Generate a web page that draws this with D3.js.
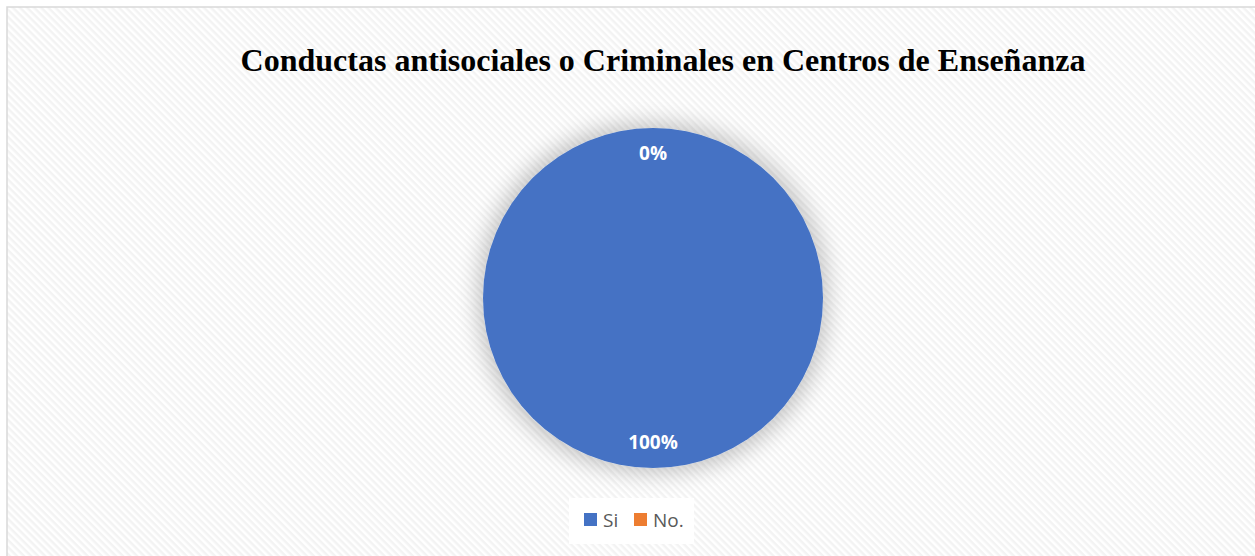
<!DOCTYPE html>
<html lang="es">
<head>
  <meta charset="utf-8">
  <title>Conductas antisociales o Criminales</title>
  <script src="https://cdnjs.cloudflare.com/ajax/libs/d3/7.8.5/d3.min.js"></script>
  <style>
    body { margin: 0; background: #fff; }
    svg { display: block; }
  </style>
</head>
<body>
  <script>
    var width = 1255;
    var height = 556;

    // data
    var categories = ["Si", "No."];
    var values = [100, 0];
    var colors = ["#4472c4", "#ed7d31"];
    var title = "Conductas antisociales o Criminales en Centros de Enseñanza";

    var cx = 653, cy = 298, radius = 170;

    var svg = d3.select("body").append("svg")
      .attr("width", width)
      .attr("height", height);

    var defs = svg.append("defs");

    // diagonal stripe background
    var pat = defs.append("pattern")
      .attr("id", "stripes")
      .attr("patternUnits", "userSpaceOnUse")
      .attr("width", 5)
      .attr("height", 5)
      .attr("patternTransform", "rotate(45)");
    pat.append("rect").attr("width", 5).attr("height", 5).attr("fill", "#ffffff");
    pat.append("rect").attr("width", 5).attr("height", 2.5).attr("fill", "#f3f3f3");

    var shadow = defs.append("filter")
      .attr("id", "shadow")
      .attr("x", "-30%").attr("y", "-30%")
      .attr("width", "160%").attr("height", "160%");
    shadow.append("feMorphology")
      .attr("in", "SourceAlpha")
      .attr("operator", "dilate")
      .attr("radius", 5)
      .attr("result", "grow");
    shadow.append("feGaussianBlur")
      .attr("in", "grow")
      .attr("stdDeviation", 11)
      .attr("result", "blur");
    shadow.append("feComponentTransfer")
      .append("feFuncA").attr("type", "linear").attr("slope", 0.22);
    var merge = shadow.append("feMerge");
    merge.append("feMergeNode");
    merge.append("feMergeNode").attr("in", "SourceGraphic");

    // chart area
    svg.append("rect")
      .attr("x", 7).attr("y", 7)
      .attr("width", width).attr("height", height)
      .attr("fill", "url(#stripes)")
      .attr("stroke", "#d9d9d9")
      .attr("stroke-width", 1.5);

    svg.append("text")
      .attr("x", 663)
      .attr("y", 71)
      .attr("text-anchor", "middle")
      .attr("font-family", "Liberation Serif, Times New Roman, serif")
      .attr("font-weight", "bold")
      .attr("font-size", 32)
      .attr("fill", "#000")
      .text(title);

    var pie = d3.pie().sort(null).value(function (d) { return d; });
    var arcs = pie(values);
    var arc = d3.arc().innerRadius(0).outerRadius(radius);
    var labelArc = d3.arc().innerRadius(radius * 0.85).outerRadius(radius * 0.85);
    var total = d3.sum(values);

    var g = svg.append("g").attr("transform", "translate(" + cx + "," + cy + ")");

    g.selectAll("path")
      .data(arcs)
      .enter()
      .append("path")
      .attr("d", arc)
      .attr("fill", function (d, i) { return colors[i]; })
      .attr("filter", "url(#shadow)");

    g.selectAll("text")
      .data(arcs)
      .enter()
      .append("text")
      .attr("transform", function (d) { return "translate(" + labelArc.centroid(d) + ")"; })
      .attr("text-anchor", "middle")
      .attr("dy", "0.35em")
      .attr("font-family", "Open Sans, Liberation Sans, sans-serif")
      .attr("font-weight", "bold")
      .attr("font-size", 19)
      .attr("fill", "#fff")
      .text(function (d) { return Math.round(d.data / total * 100) + "%"; });

    // legend
    var legend = svg.append("g");
    legend.append("rect")
      .attr("x", 569).attr("y", 498)
      .attr("width", 125).attr("height", 46)
      .attr("fill", "#fff");

    var legX = [584, 634];
    var items = legend.selectAll("g.item")
      .data(categories)
      .enter()
      .append("g")
      .attr("class", "item")
      .attr("transform", function (d, i) { return "translate(" + legX[i] + ",513)"; });
    items.append("rect")
      .attr("width", 13).attr("height", 13)
      .attr("fill", function (d, i) { return colors[i]; });
    items.append("text")
      .attr("x", 19)
      .attr("y", 14)
      .attr("font-family", "Open Sans, Liberation Sans, sans-serif")
      .attr("font-size", 19)
      .attr("fill", "#595959")
      .text(function (d) { return d; });
  </script>
</body>
</html>
